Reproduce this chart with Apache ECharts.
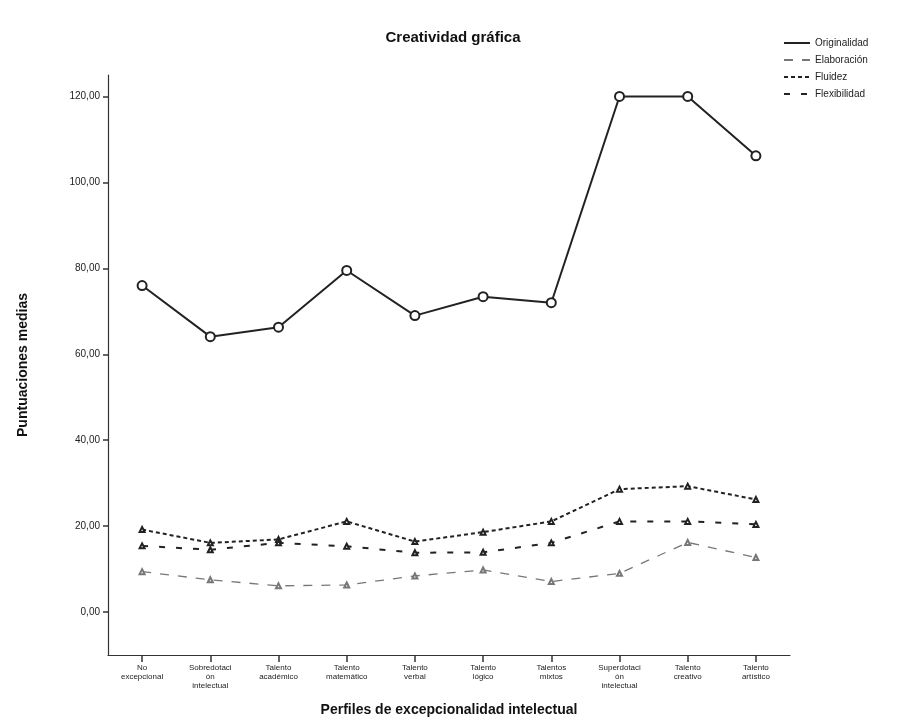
<!DOCTYPE html>
<html>
<head>
<meta charset="utf-8">
<script src="https://cdn.jsdelivr.net/npm/echarts@6/dist/echarts.min.js"></script>
<style>
  html, body { margin: 0; padding: 0; background: #fff; }
  #chart { width: 906px; height: 720px; }
</style>
</head>
<body>
<div id="chart"></div>
<script>
// perfiles (eje X)
const categories = [
  "No\nexcepcional",
  "Sobredotaci\nón\nintelectual",
  "Talento\nacadémico",
  "Talento\nmatemático",
  "Talento\nverbal",
  "Talento\nlógico",
  "Talentos\nmixtos",
  "Superdotaci\nón\nintelectual",
  "Talento\ncreativo",
  "Talento\nartístico"
];

// puntuaciones medias
const originalidad = [76.0, 64.1, 66.3, 79.5, 69.0, 73.4, 72.0, 120.0, 120.0, 106.2];
const elaboracion = [9.4, 7.5, 6.1, 6.3, 8.4, 9.8, 7.1, 9.0, 16.2, 12.7];
const fluidez = [19.2, 16.1, 16.9, 21.1, 16.4, 18.6, 21.1, 28.6, 29.3, 26.2];
const flexibilidad = [15.4, 14.5, 16.1, 15.3, 13.8, 13.9, 16.1, 21.1, 21.1, 20.4];

const yTicks = [0, 20, 40, 60, 80, 100, 120];

const chart = echarts.init(document.getElementById("chart"));

const fontFam = "Liberation Sans, Arial, sans-serif";

function serie(name, data, dash, color, width, symbol, size) {
  return {
    name: name,
    type: "line",
    data: data,
    symbol: symbol,
    symbolSize: size,
    lineStyle: { color: color, width: width, type: dash },
    itemStyle: { color: color, borderColor: color, borderWidth: 1.5 },
    emphasis: { disabled: true },
    z: name === "Originalidad" ? 5 : 3
  };
}

chart.setOption({
  backgroundColor: "#fff",
  animation: false,
  title: {
    text: "Creatividad gráfica",
    left: "center",
    top: 25,
    textStyle: { fontFamily: fontFam, fontSize: 15, fontWeight: "bold", color: "#111" }
  },
  legend: {
    orient: "vertical",
    left: 778,
    top: 33,
    itemWidth: 26,
    itemHeight: 10,
    itemGap: 7,
    itemStyle: { opacity: 0 },
    textStyle: { fontFamily: fontFam, fontSize: 10, color: "#222" },
    data: ["Originalidad", "Elaboración", "Fluidez", "Flexibilidad"]
  },
  grid: { left: 108, right: 116, top: 75, bottom: 65, outerBoundsMode: "none" },
  xAxis: {
    type: "category",
    data: categories,
    boundaryGap: true,
    name: "Perfiles de excepcionalidad intelectual",
    nameLocation: "middle",
    nameGap: 48,
    nameTextStyle: { fontFamily: fontFam, fontSize: 14, fontWeight: "bold", color: "#111" },
    axisLine: { onZero: false, lineStyle: { color: "#333", width: 1.2 } },
    axisTick: { show: true, alignWithLabel: true, length: 7, lineStyle: { color: "#333", width: 1.5 } },
    axisLabel: {
      interval: 0,
      margin: 8,
      fontFamily: fontFam,
      fontSize: 8,
      lineHeight: 9,
      color: "#222"
    }
  },
  yAxis: {
    type: "value",
    min: -10,
    max: 125,
    name: "Puntuaciones medias",
    nameLocation: "middle",
    nameGap: 78,
    nameTextStyle: { fontFamily: fontFam, fontSize: 14, fontWeight: "bold", color: "#111" },
    axisLine: { show: true, lineStyle: { color: "#333", width: 1.2 } },
    axisTick: { show: true, length: 5, customValues: yTicks, lineStyle: { color: "#333", width: 1.5 } },
    axisLabel: {
      customValues: yTicks,
      margin: 8,
      fontFamily: fontFam,
      fontSize: 10,
      color: "#222",
      formatter: v => v.toFixed(2).replace(".", ",")
    },
    splitLine: { show: false }
  },
  series: [
    serie("Originalidad", originalidad, "solid", "#222", 2, "emptyCircle", 9),
    serie("Elaboración", elaboracion, [9, 9], "#777", 1.3, "emptyTriangle", 5),
    serie("Fluidez", fluidez, [4, 3], "#222", 2, "emptyTriangle", 5),
    serie("Flexibilidad", flexibilidad, [6, 11], "#222", 2, "emptyTriangle", 5)
  ]
});
</script>
</body>
</html>
